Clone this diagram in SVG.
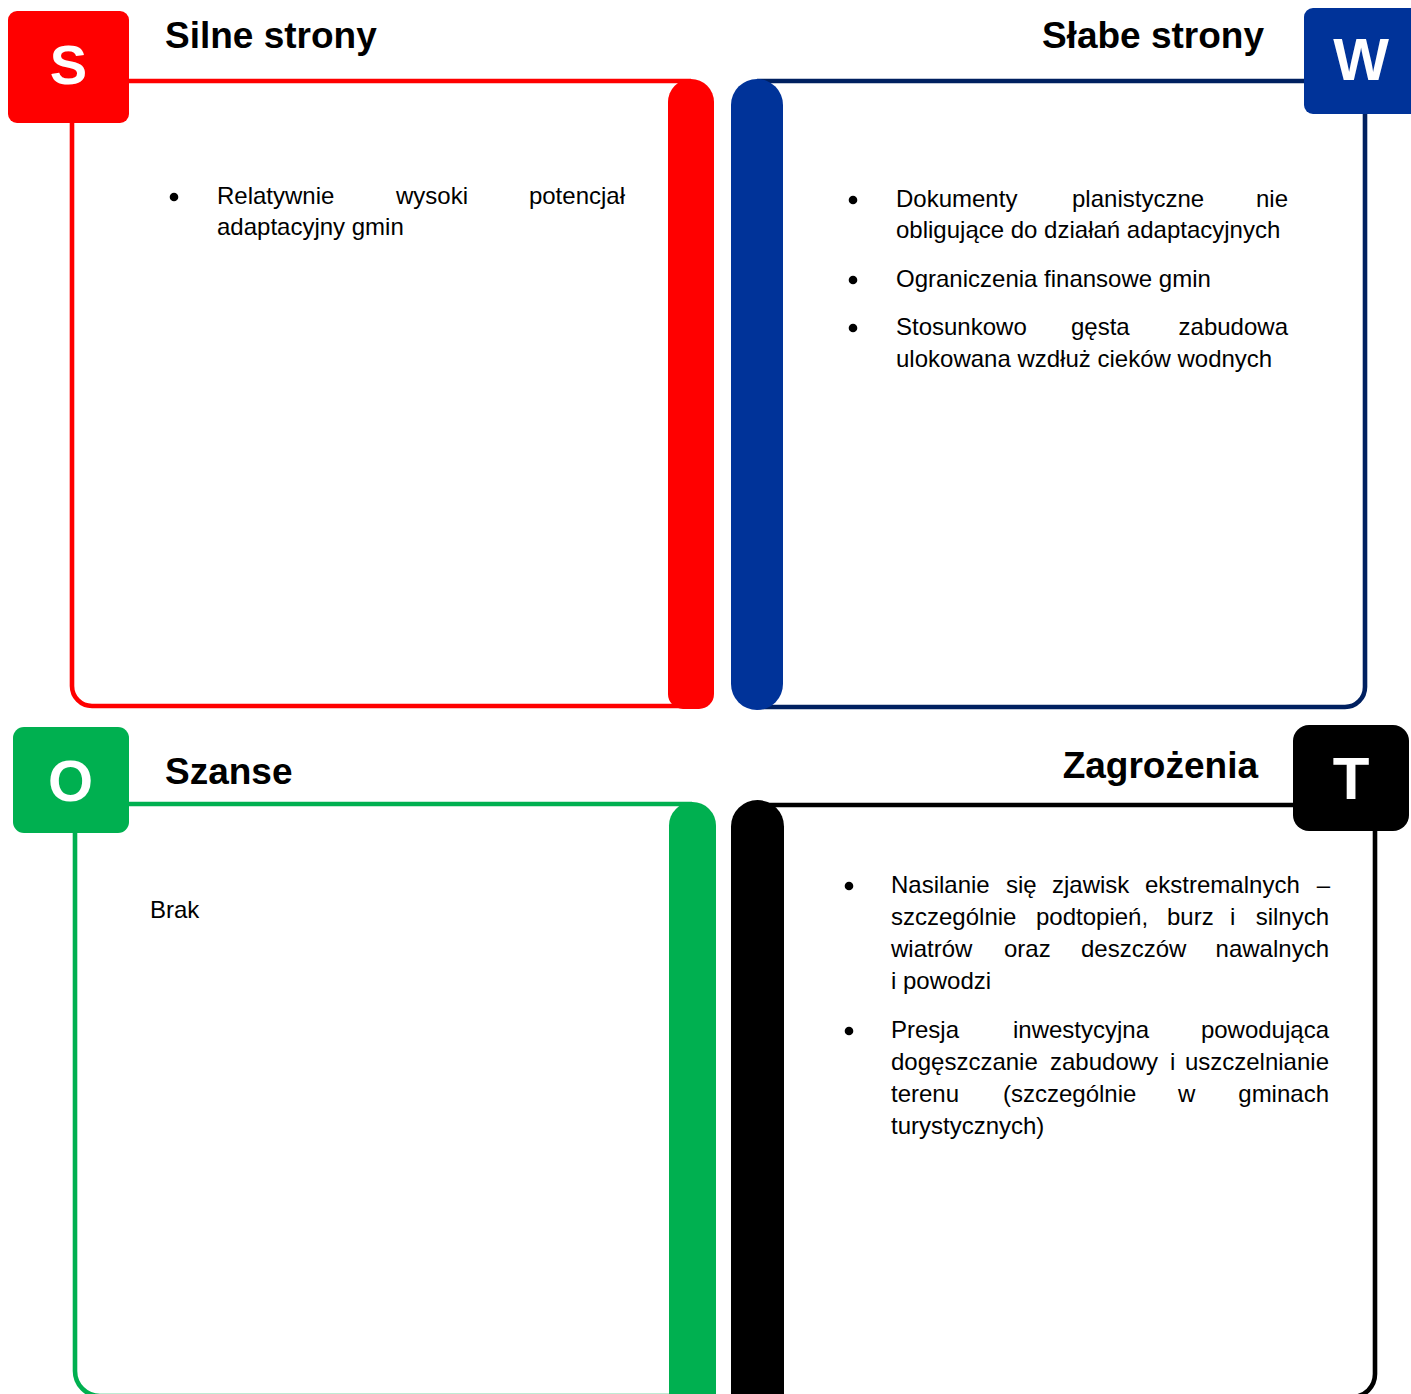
<svg xmlns="http://www.w3.org/2000/svg" width="1411" height="1394" viewBox="0 0 1411 1394">
<style>
  .title { font-family: "Liberation Sans", Arial, sans-serif; font-weight: bold; font-size: 37px; fill: #000; }
  .letter { font-family: "Liberation Sans", Arial, sans-serif; font-weight: bold; fill: #fff; text-anchor: middle; }
  .body { font-family: "Liberation Sans", Arial, sans-serif; font-size: 24px; fill: #000; }
  .end { text-anchor: end; }
  .frame { fill: none; stroke-width: 4.6; }
</style>
<rect width="1411" height="1394" fill="#ffffff"/>

<g id="node-S">
  <path class="frame" stroke="#FF0000" d="M129,81 H691 M72,123 V686 A20,20 0 0 0 92,706 H691"/>
  <path fill="#FF0000" d="M668,102 A23,23 0 0 1 714,102 V694 A15,15 0 0 1 699,709 H683 A15,15 0 0 1 668,694 Z"/>
  <rect x="8" y="11" width="121" height="112" rx="9" fill="#FF0000"/>
  <text class="letter" x="68.5" y="84" font-size="56">S</text>
  <text class="title" x="165" y="48">Silne strony</text>
  <circle cx="174" cy="197" r="4.3" fill="#000"/>
  <text class="body" y="204"><tspan x="217">Relatywnie</tspan><tspan x="396">wysoki</tspan></text>
  <text class="body end" x="625" y="204">potencjał</text>
  <text class="body" x="217" y="235">adaptacyjny gmin</text>
</g>

<g id="node-W">
  <path class="frame" stroke="#002060" d="M757,81 H1304 M1365,114 V687 A20,20 0 0 1 1345,707 H757"/>
  <rect x="731" y="79" width="52" height="631" rx="26" fill="#003399"/>
  <rect x="1304" y="8" width="115" height="106" rx="9" fill="#003399"/>
  <text class="letter" x="1361" y="80" font-size="59">W</text>
  <text class="title end" x="1264" y="48">Słabe strony</text>
  <circle cx="853" cy="200" r="4.3" fill="#000"/>
  <text class="body" y="207"><tspan x="896">Dokumenty</tspan><tspan x="1072">planistyczne</tspan></text>
  <text class="body end" x="1288" y="207">nie</text>
  <text class="body" x="896" y="238">obligujące do działań adaptacyjnych</text>
  <circle cx="853" cy="280" r="4.3" fill="#000"/>
  <text class="body" x="896" y="287">Ograniczenia finansowe gmin</text>
  <circle cx="853" cy="328" r="4.3" fill="#000"/>
  <text class="body" y="335"><tspan x="896">Stosunkowo</tspan><tspan x="1071">gęsta</tspan></text>
  <text class="body end" x="1288" y="335">zabudowa</text>
  <text class="body" x="896" y="367">ulokowana wzdłuż cieków wodnych</text>
</g>

<g id="node-O">
  <path class="frame" stroke="#00B050" d="M129,804 H692 M75,833 V1371 A25,25 0 0 0 100,1396 H692"/>
  <path fill="#00B050" d="M669,825.5 A23.5,23.5 0 0 1 716,825.5 V1400 H669 Z"/>
  <rect x="13" y="727" width="116" height="106" rx="11" fill="#00B050"/>
  <text class="letter" x="70.5" y="801" font-size="58">O</text>
  <text class="title" x="165" y="784">Szanse</text>
  <text class="body" x="150" y="918">Brak</text>
</g>

<g id="node-T">
  <path class="frame" stroke="#000000" d="M1293,805 H757 M1375,831 V1374 A23,23 0 0 1 1352,1397 H757"/>
  <path fill="#000000" d="M731,826.5 A26.5,26.5 0 0 1 784,826.5 V1400 H731 Z"/>
  <rect x="1293" y="725" width="116" height="106" rx="16" fill="#000000"/>
  <text class="letter" x="1351" y="799" font-size="60">T</text>
  <text class="title end" x="1258" y="778">Zagrożenia</text>
  <circle cx="849" cy="886" r="4.3" fill="#000"/>
  <text class="body" y="893"><tspan x="891">Nasilanie</tspan><tspan x="1006">się</tspan><tspan x="1052">zjawisk</tspan><tspan x="1145">ekstremalnych</tspan></text>
  <text class="body end" x="1330" y="893">–</text>
  <text class="body" y="925"><tspan x="891">szczególnie</tspan><tspan x="1036">podtopień,</tspan><tspan x="1167">burz</tspan><tspan x="1230">i</tspan></text>
  <text class="body end" x="1329" y="925">silnych</text>
  <text class="body" y="957"><tspan x="891">wiatrów</tspan><tspan x="1004">oraz</tspan><tspan x="1081">deszczów</tspan></text>
  <text class="body end" x="1329" y="957">nawalnych</text>
  <text class="body" x="891" y="989">i powodzi</text>
  <circle cx="849" cy="1031" r="4.3" fill="#000"/>
  <text class="body" y="1038"><tspan x="891">Presja</tspan><tspan x="1013">inwestycyjna</tspan></text>
  <text class="body end" x="1329" y="1038">powodująca</text>
  <text class="body" y="1070"><tspan x="891">dogęszczanie</tspan><tspan x="1050">zabudowy</tspan><tspan x="1170">i</tspan></text>
  <text class="body end" x="1329" y="1070">uszczelnianie</text>
  <text class="body" y="1102"><tspan x="891">terenu</tspan><tspan x="1003">(szczególnie</tspan><tspan x="1178">w</tspan></text>
  <text class="body end" x="1329" y="1102">gminach</text>
  <text class="body" x="891" y="1134">turystycznych)</text>
</g>
</svg>
